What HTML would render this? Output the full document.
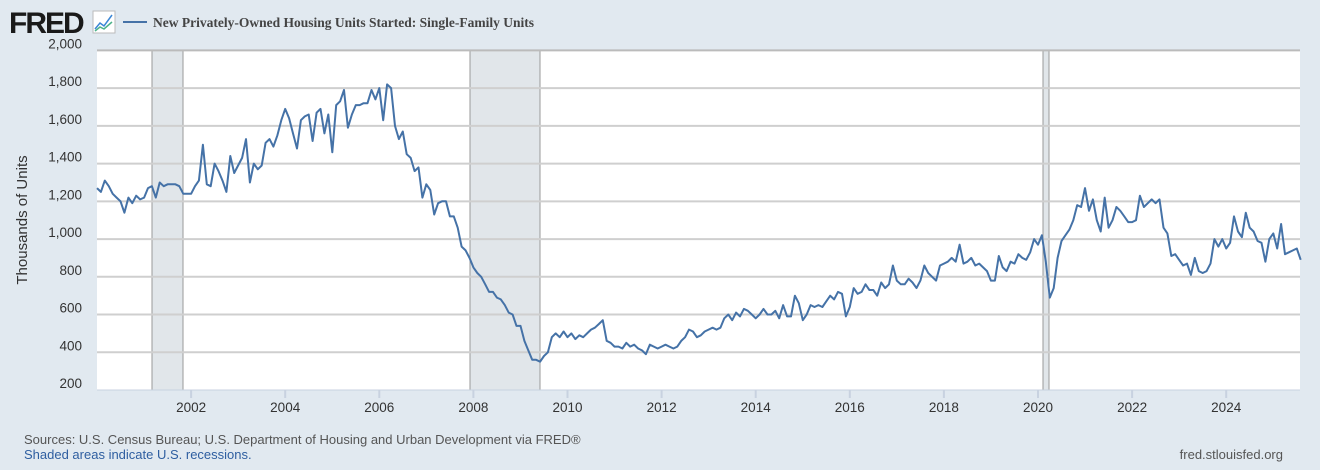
<!DOCTYPE html>
<html><head><meta charset="utf-8"><style>
body{margin:0;background:#e1e9f0;width:1320px;height:465px;overflow:hidden;font-family:"Liberation Sans",sans-serif}
</style></head><body>
<svg id="s" width="1320" height="465" xmlns="http://www.w3.org/2000/svg" font-family="Liberation Sans, sans-serif">
<rect width="1320" height="465" fill="#e1e9f0"/>
<text x="9" y="33" font-size="30" font-weight="bold" fill="#1a1a1a" letter-spacing="-2">FRED</text>
<rect x="93" y="11" width="22" height="22" fill="#fff" stroke="#bbb"/>
<polyline points="95,29 100,23 104,26 112,15" fill="none" stroke="#3a86d6" stroke-width="1.5"/>
<polyline points="95,31 100,27 104,29 112,22" fill="none" stroke="#4cb38a" stroke-width="1.5"/>
<line x1="123" y1="22" x2="147" y2="22" stroke="#4572a7" stroke-width="2"/>
<text x="153" y="27" font-family="Liberation Serif, serif" font-weight="bold" font-size="13.5" fill="#444">New Privately-Owned Housing Units Started: Single-Family Units</text>
<rect x="97" y="50" width="1203" height="340" fill="#fff"/>
<g id="rec" fill="#e1e6ea" stroke="#999" stroke-width="1">
<rect x="152" y="50" width="31" height="340"/>
<rect x="470" y="50" width="70" height="340"/>
<rect x="1043" y="50" width="6" height="340"/>
</g>
<g id="grid" stroke="#cfcfcf" stroke-width="2"></g>
<line x1="97" y1="390" x2="1300" y2="390" stroke="#c8d2e0" stroke-width="1"/>
<g id="lab" font-size="13.5" fill="#333"></g>
<text transform="translate(27,220) rotate(-90)" text-anchor="middle" font-size="15" fill="#333">Thousands of Units</text>
<path id="ln" fill="none" stroke="#4572a7" stroke-width="2" stroke-linejoin="round"/>
<text x="24" y="444" font-size="13" fill="#555">Sources: U.S. Census Bureau; U.S. Department of Housing and Urban Development via FRED®</text>
<text x="24" y="459" font-size="13" fill="#2e5ea0">Shaded areas indicate U.S. recessions.</text>
<text x="1283" y="459" font-size="13" fill="#555" text-anchor="end">fred.stlouisfed.org</text>
</svg>
<script>
var NS="http://www.w3.org/2000/svg";
function Y(v){return 390-(v-200)*0.18867;}
function X(t){return 97+t*47.05;}
var g=document.getElementById('grid'),lab=document.getElementById('lab');
for(var v=400;v<=2000;v+=200){var l=document.createElementNS(NS,'line');l.setAttribute('x1',97);l.setAttribute('x2',1300);l.setAttribute('y1',Y(v));l.setAttribute('y2',Y(v));if(v==2000){l.setAttribute('stroke','#bbb');}g.appendChild(l);}
for(var v=200;v<=2000;v+=200){var t=document.createElementNS(NS,'text');t.setAttribute('x',82);t.setAttribute('y',Y(v)-2);t.setAttribute('text-anchor','end');t.textContent=v>=1000?Math.floor(v/1000)+','+String(v%1000).padStart(3,'0'):v;lab.appendChild(t);}
for(var yr=2002;yr<=2024;yr+=2){var x=X(yr-2000);var t=document.createElementNS(NS,'text');t.setAttribute('x',x);t.setAttribute('y',412);t.setAttribute('text-anchor','middle');t.textContent=yr;lab.appendChild(t);
var k=document.createElementNS(NS,'line');k.setAttribute('x1',x);k.setAttribute('x2',x);k.setAttribute('y1',390);k.setAttribute('y2',398);k.setAttribute('stroke','#c8d2e0');g.appendChild(k);}
var d=[1270,1250,1310,1280,1240,1220,1200,1140,1220,1190,1230,1210,
1220,1270,1280,1220,1300,1280,1290,1290,1290,1280,1240,1240,
1240,1280,1310,1500,1290,1280,1400,1360,1310,1250,1440,1350,
1390,1430,1530,1300,1400,1370,1390,1510,1530,1490,1550,1630,
1690,1640,1560,1480,1630,1650,1660,1520,1670,1690,1560,1660,
1460,1710,1730,1790,1590,1660,1710,1710,1720,1720,1790,1740,
1800,1630,1820,1800,1600,1530,1570,1450,1430,1360,1380,1220,
1290,1260,1130,1190,1200,1200,1120,1120,1060,960,940,900,
850,820,800,760,720,720,690,680,650,610,600,540,
540,460,410,360,360,350,380,400,480,500,480,510,
480,500,470,490,480,500,520,530,550,570,460,450,
430,430,420,450,430,440,420,410,390,440,430,420,
430,440,430,420,430,460,480,520,510,480,490,510,
520,530,520,530,580,600,570,610,590,630,620,600,
580,600,630,600,600,620,580,650,590,590,700,660,
570,600,650,640,650,640,670,700,680,720,710,590,
640,740,710,720,760,730,730,700,770,740,760,860,
780,760,760,790,770,740,780,860,820,800,780,860,
870,880,900,880,970,870,880,900,860,870,850,830,
780,780,910,850,830,880,870,920,900,890,930,1000,
970,1020,880,690,740,900,990,1020,1050,1100,1180,1170,
1270,1150,1210,1100,1040,1220,1060,1100,1170,1150,1120,1090,
1090,1100,1230,1170,1190,1210,1190,1210,1060,1030,910,920,
890,860,870,810,900,830,820,830,870,1000,960,1000,
950,980,1120,1040,1010,1140,1060,1040,990,980,880,1000,
1030,950,1080,920,930,940,950,890];
var p='';for(var i=0;i<d.length;i++){p+=(i?'L':'M')+X(i/12).toFixed(1)+','+Y(d[i]).toFixed(1);}
document.getElementById('ln').setAttribute('d',p);
</script>
</body></html>
